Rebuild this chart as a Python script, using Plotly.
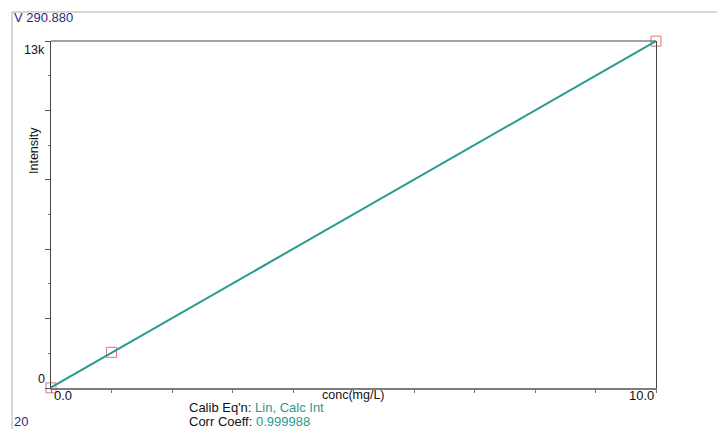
import numpy as np
import plotly.graph_objects as go

# Calibration standards for the V 290.880 line
conc = [0.0, 1.0, 10.0]          # mg/L
intensity = [5, 1335, 12995]     # counts

x_tick_vals = [0.0, 10.0]
x_tick_labels = ["0.0", "10.0"]
y_tick_vals = [0, 13000]
y_tick_labels = ["0", "13k"]

wavelength_label = "V 290.880"
page_label = "20"
calib_eqn = "Lin, Calc Int"
corr_coeff = "0.999988"

W, H = 717, 429
L, R, T, B = 51, 61, 41, 41
PW, PH = W - L - R, H - T - B


def px_x(p):
    return (p - L) / PW


def px_y(p):
    return (H - B - p) / PH


FONT = "Liberation Sans, Arial, sans-serif"
TEAL = "#2a9a90"
NAVY = "#2b2b7d"

# Least-squares calibration line through the standards
slope, icept = np.polyfit(conc, intensity, 1)
fit_x = np.array([min(conc), max(conc)])
fit_y = slope * fit_x + icept

fig = go.Figure()
fig.add_trace(go.Scatter(
    x=conc, y=intensity, mode="markers", cliponaxis=False,
    marker=dict(symbol="square-open", size=10, color="#e07272",
                line=dict(width=1, color="#e07272")),
    hoverinfo="x+y", showlegend=False))
fig.add_trace(go.Scatter(
    x=fit_x, y=fit_y, mode="lines", cliponaxis=False,
    line=dict(color=TEAL, width=2), showlegend=False))

annotations = []
# y tick labels: top label hangs below the top edge, bottom label sits above baseline
for v, t in zip(y_tick_vals, y_tick_labels):
    annotations.append(dict(
        x=0, xref="paper", y=v, yref="y", text=t, showarrow=False,
        xanchor="right", xshift=-4,
        yanchor="top" if v == max(y_tick_vals) else "bottom",
        font=dict(size=12.5, color="#111", family=FONT)))
# x tick labels: first left-aligned, last right-aligned
for v, t in zip(x_tick_vals, x_tick_labels):
    annotations.append(dict(
        x=v, xref="x", y=0, yref="paper", text=t, showarrow=False,
        xanchor="left" if v == min(x_tick_vals) else "right",
        xshift=1 if v == min(x_tick_vals) else 0,
        yanchor="middle", yshift=-7,
        font=dict(size=13, color="#111", family=FONT)))

annotations += [
    dict(x=0.5, xref="paper", y=0, yref="paper", text="conc(mg/L)",
         showarrow=False, xanchor="center", yanchor="middle", yshift=-7,
         font=dict(size=12.5, color="#111", family=FONT)),
    dict(x=px_x(34), xref="paper", y=px_y(151), yref="paper", text="Intensity",
         showarrow=False, textangle=-90, xanchor="center", yanchor="middle",
         font=dict(size=12.5, color="#111", family=FONT)),
    dict(x=px_x(12), xref="paper", y=px_y(18), yref="paper", text=wavelength_label,
         showarrow=False, xanchor="left", yanchor="middle",
         font=dict(size=13, color=NAVY, family=FONT)),
    dict(x=px_x(12), xref="paper", y=px_y(421), yref="paper", text=page_label,
         showarrow=False, xanchor="left", yanchor="middle",
         font=dict(size=13, color=NAVY, family=FONT)),
    dict(x=px_x(187), xref="paper", y=px_y(408), yref="paper",
         text=f"Calib Eq'n: <span style='color:{TEAL}'>{calib_eqn}</span>",
         showarrow=False, xanchor="left", yanchor="middle",
         font=dict(size=13, color="#111", family=FONT)),
    dict(x=px_x(187), xref="paper", y=px_y(421), yref="paper",
         text=f"Corr Coeff: <span style='color:{TEAL}'>{corr_coeff}</span>",
         showarrow=False, xanchor="left", yanchor="middle",
         font=dict(size=13, color="#111", family=FONT)),
]

shapes = [
    # outer window frame (top and left edges)
    dict(type="line", xref="paper", yref="paper",
         x0=px_x(12), x1=px_x(W + 2), y0=px_y(12), y1=px_y(12),
         line=dict(color="#b0b0a4", width=1)),
    dict(type="line", xref="paper", yref="paper",
         x0=px_x(12), x1=px_x(12), y0=px_y(12), y1=px_y(H + 2),
         line=dict(color="#b0b0a4", width=1)),
    # top edge of the plot box
    dict(type="line", xref="paper", yref="paper",
         x0=0, x1=1, y0=1, y1=1, line=dict(color="#444", width=1)),
]

fig.update_layout(
    width=W, height=H,
    margin=dict(l=L, r=R, t=T, b=B, pad=0),
    paper_bgcolor="white", plot_bgcolor="white",
    font=dict(family=FONT, size=12, color="#111"),
    annotations=annotations, shapes=shapes,
    showlegend=False,
)
fig.update_xaxes(
    range=[0, 10], showgrid=False, zeroline=False,
    showline=True, linecolor="#7d7d7d", linewidth=2,
    tickmode="array", tickvals=list(np.arange(0, 11, 1.0)),
    ticktext=[""] * 11, ticks="outside", ticklen=3, tickcolor="#777",
)
fig.update_yaxes(
    range=[0, 13000], showgrid=False, zeroline=False,
    showline=True, mirror=True, linecolor="#444", linewidth=1,
    tickmode="array", tickvals=list(range(0, 13001, 2600)),
    ticktext=[""] * 6, ticks="outside", ticklen=5, tickcolor="#555",
    minor=dict(tickmode="linear", tick0=0, dtick=1300, ticks="outside",
               ticklen=2, tickcolor="#777"),
)

fig.write_html("out.html")
